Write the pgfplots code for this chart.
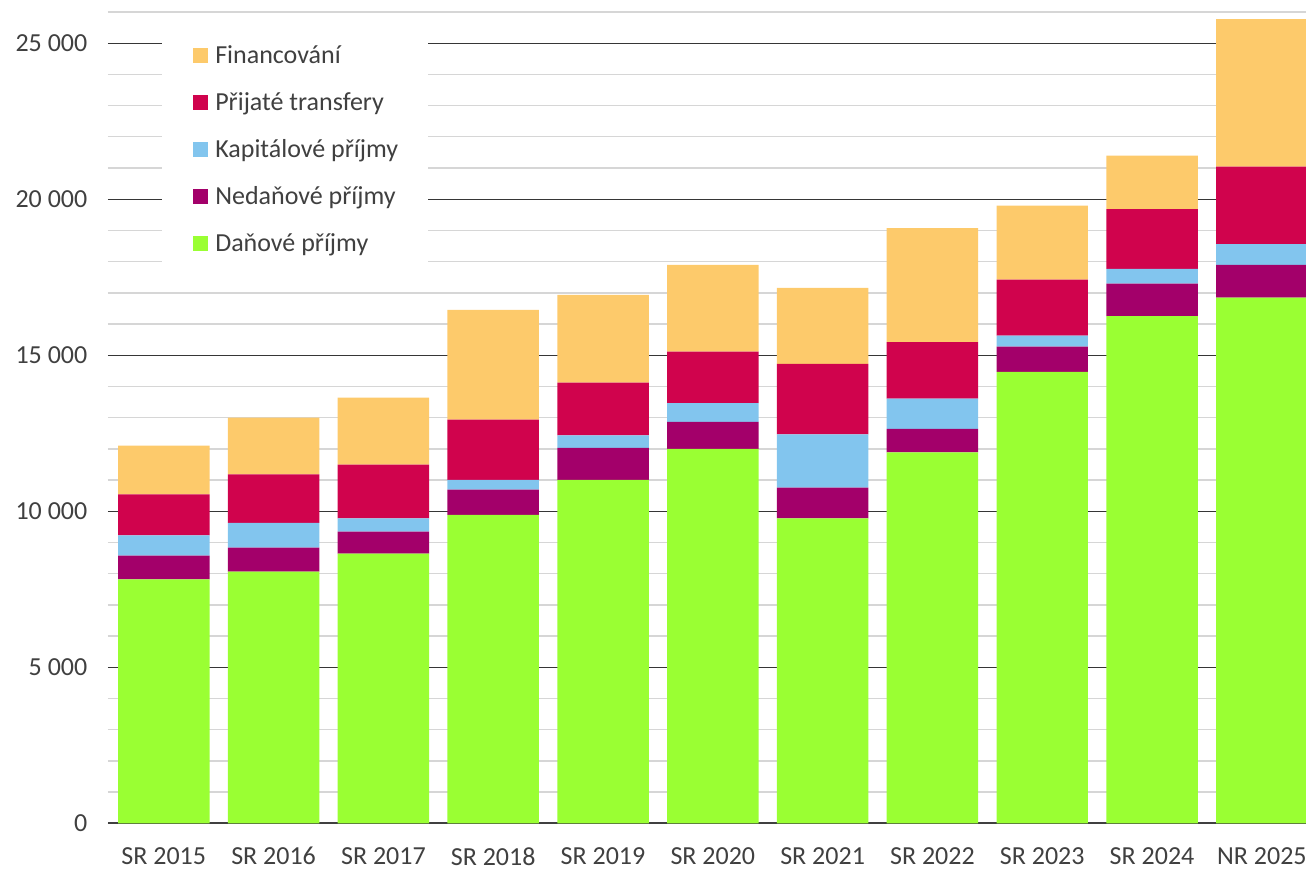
\documentclass[border=0pt]{standalone}
\usepackage{fontspec}
\setmainfont{Carlito}
\usepackage{pgfplots}
\usepackage{pgfplotstable}
\pgfplotsset{compat=1.18}
\definecolor{cFin}{HTML}{FDCA6B}
\definecolor{cTr}{HTML}{D0034D}
\definecolor{cKap}{HTML}{82C5EE}
\definecolor{cNed}{HTML}{A3006A}
\definecolor{cDan}{HTML}{9AFF33}
\definecolor{txt}{HTML}{404040}
\definecolor{majg}{HTML}{363636}
\definecolor{minorg}{HTML}{D6D6D6}

\pgfplotstableread{
x dan ned kap tr fin
0 7821 756 654 1314 1558
1 8064 769 792 1561 1814
2 8641 705 430 1718 2147
3 9881 811 311 1933 3516
4 11003 1026 407 1686 2811
5 11997 865 600 1653 2779
6 9776 980 1712 2253 2436
7 11891 747 971 1808 3654
8 14465 811 352 1795 2372
9 16250 1045 471 1913 1718
10 16846 1048 664 2487 4724
}\data

\begin{document}
\begin{tikzpicture}
\useasboundingbox (-81pt,-35pt) rectangle (898.5pt,617.5pt);
\begin{axis}[
  at={(0pt,0pt)}, anchor=south west,
  scale only axis, width=898.5pt, height=608.5pt,
  ybar stacked, bar width=0.833,
  xmin=-0.508, xmax=10.402, ymin=0, ymax=26000,
  xtick={0,...,10},
  xticklabels={SR 2015,SR 2016,SR 2017,SR 2018,SR 2019,SR 2020,SR 2021,SR 2022,SR 2023,SR 2024,NR 2025},
  ytick={0,5000,10000,15000,20000,25000},
  yticklabels={0,5 000,10 000,15 000,20 000,25 000},
  minor ytick={0,1000,...,26000},
  ymajorgrids, yminorgrids,
  major grid style={draw=majg, line width=1pt},
  minor grid style={draw=minorg, line width=1pt},
  axis line style={draw=none},
  major tick length=0pt, minor tick length=0pt,
  tick label style={font=\fontsize{19.5pt}{23pt}\selectfont, text=txt},
  xticklabel shift=14.5pt, yticklabel shift=12pt,
  reverse legend,
  legend cell align=left,
  legend style={
    at={(0.0451,0.981)}, anchor=north west,
    fill=white, draw=none,
    font=\fontsize{19.5pt}{23pt}\selectfont, text=txt,
    inner xsep=17.5pt, inner ysep=14pt,
    row sep=18.25pt,
    nodes={text height=13pt, text depth=4pt, inner ysep=0pt, inner xsep=5.25pt},
  },
  legend image code/.code={\path (0pt,0pt); \fill[#1,draw=none] (5.75pt,-3.8pt) rectangle (17pt,7.45pt);},
]
\addplot[fill=cDan, draw=none] table[x=x, y=dan] {\data};
\addplot[fill=cNed, draw=none] table[x=x, y=ned] {\data};
\addplot[fill=cKap, draw=none] table[x=x, y=kap] {\data};
\addplot[fill=cTr, draw=none] table[x=x, y=tr] {\data};
\addplot[fill=cFin, draw=none] table[x=x, y=fin] {\data};
\legend{Daňové příjmy, Nedaňové příjmy, Kapitálové příjmy, Přijaté transfery, Financování}
\draw[txt, line width=1.5pt] (rel axis cs:0,0) -- (rel axis cs:1,0);
\end{axis}
\end{tikzpicture}
\end{document}
